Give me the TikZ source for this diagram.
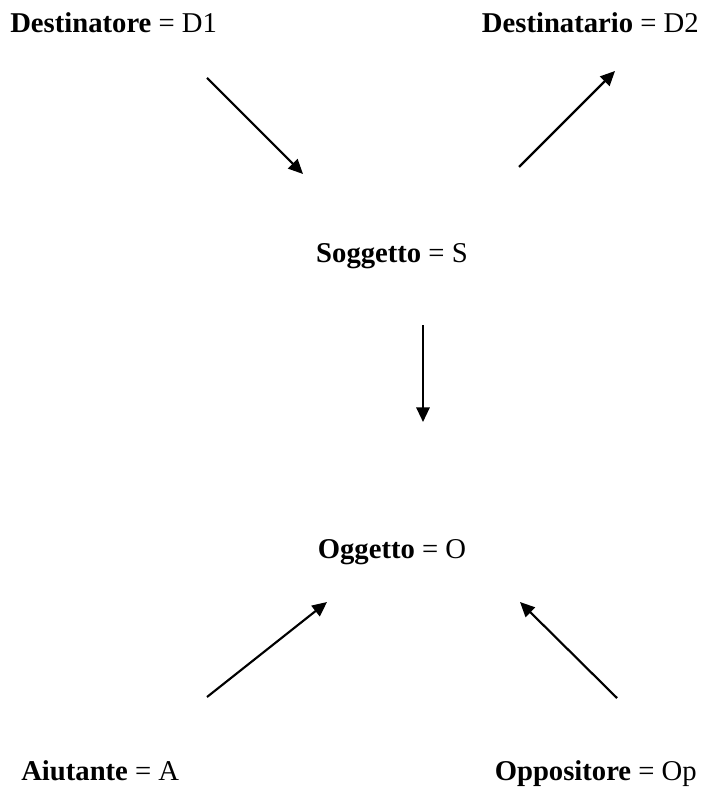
\documentclass[tikz,border=0pt]{standalone}
\usepackage{fontspec}
\setmainfont{Liberation Serif}
\usetikzlibrary{arrows.meta}
\begin{document}
\begin{tikzpicture}[x=0.75pt,y=-0.75pt,
  role/.style={inner sep=0pt,font=\fontsize{21.5}{24}\selectfont},
  link/.style={line width=1.6pt,-{Triangle[length=11pt,width=10pt]}}]
\useasboundingbox (0,0) rectangle (725,787);
% actantial roles (placed by their baselines)
\node[role,anchor=base west] (d1) at (10,33) {\textbf{Destinatore} = D1};
\node[role,anchor=base east] (d2) at (699,33) {\textbf{Destinatario} = D2};
\node[role,anchor=base] (s) at (392,263) {\textbf{Soggetto} = S};
\node[role,anchor=base] (o) at (392,558) {\textbf{Oggetto} = O};
\node[role,anchor=base west] (a) at (21,780) {\textbf{Aiutante} = A};
\node[role,anchor=base east] (op) at (697,780) {\textbf{Oppositore} = Op};
% arrow end points
\coordinate (d1s) at (207,78);   \coordinate (d1e) at (303,174);
\coordinate (d2s) at (519,167);  \coordinate (d2e) at (615,71);
\coordinate (ss)  at (423,325);  \coordinate (se)  at (423,422);
\coordinate (as)  at (207,697);  \coordinate (ae)  at (327,602);
\coordinate (ops) at (617,698);  \coordinate (ope) at (520,602);
% relations
\draw[link] (d1s) -- (d1e);
\draw[link] (d2s) -- (d2e);
\draw[link] (ss) -- (se);
\draw[link] (as) -- (ae);
\draw[link] (ops) -- (ope);
\end{tikzpicture}
\end{document}
